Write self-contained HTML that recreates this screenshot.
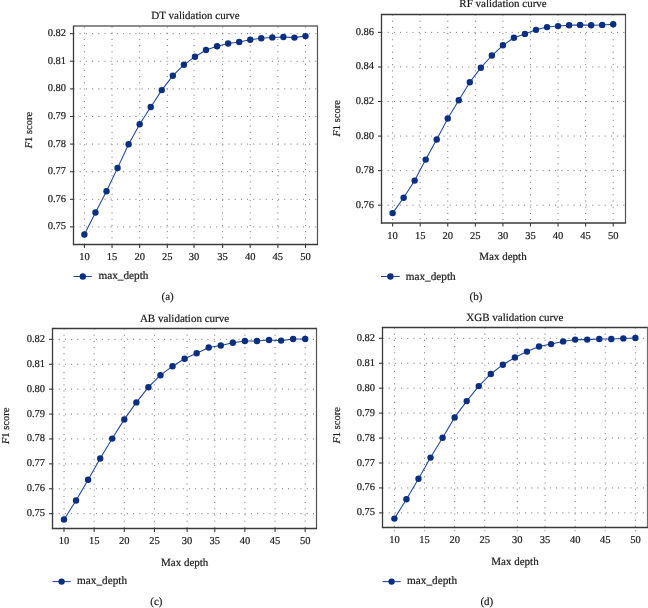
<!DOCTYPE html>
<html><head><meta charset="utf-8"><title>Validation curves</title>
<style>
html,body{margin:0;padding:0;background:#fff;}
body{width:648px;height:608px;overflow:hidden;}
svg{display:block;font-family:"Liberation Serif", serif;text-rendering:geometricPrecision;filter:blur(0.35px);}
.gr{stroke:#707070;stroke-width:1;stroke-dasharray:1 5.2;fill:none;}
.fr{stroke:#3a3a3a;stroke-width:1.3;fill:none;}
.tk{stroke:#3a3a3a;stroke-width:1.1;}
.tl{font-size:10.5px;fill:#1a1a1a;stroke:#1a1a1a;stroke-width:0.2px;}
.tt{font-size:11px;fill:#1a1a1a;stroke:#1a1a1a;stroke-width:0.2px;}
.yl{font-size:10.5px;fill:#1a1a1a;stroke:#1a1a1a;stroke-width:0.2px;}
.ln{stroke:#1f45a0;stroke-width:1.05;fill:none;}
.mk{fill:#0b2f80;}
</style></head>
<body>
<svg width="648" height="608" viewBox="0 0 648 608">
<rect width="648" height="608" fill="#fff"/>
<g>
<line x1="84.4" y1="26.5" x2="84.4" y2="244.5" class="gr"/>
<line x1="112.04" y1="26.5" x2="112.04" y2="244.5" class="gr"/>
<line x1="139.68" y1="26.5" x2="139.68" y2="244.5" class="gr"/>
<line x1="167.31" y1="26.5" x2="167.31" y2="244.5" class="gr"/>
<line x1="194.05" y1="26.5" x2="194.05" y2="244.5" class="gr"/>
<line x1="222.59" y1="26.5" x2="222.59" y2="244.5" class="gr"/>
<line x1="250.22" y1="26.5" x2="250.22" y2="244.5" class="gr"/>
<line x1="277.86" y1="26.5" x2="277.86" y2="244.5" class="gr"/>
<line x1="305.5" y1="26.5" x2="305.5" y2="244.5" class="gr"/>
<line x1="73.5" y1="226.92" x2="317.5" y2="226.92" class="gr"/>
<line x1="73.5" y1="199.31" x2="317.5" y2="199.31" class="gr"/>
<line x1="73.5" y1="171.7" x2="317.5" y2="171.7" class="gr"/>
<line x1="73.5" y1="144.09" x2="317.5" y2="144.09" class="gr"/>
<line x1="73.5" y1="116.48" x2="317.5" y2="116.48" class="gr"/>
<line x1="73.5" y1="88.87" x2="317.5" y2="88.87" class="gr"/>
<line x1="73.5" y1="61.26" x2="317.5" y2="61.26" class="gr"/>
<line x1="73.5" y1="33.65" x2="317.5" y2="33.65" class="gr"/>
<line x1="72.9" y1="26" x2="318.1" y2="26" stroke="#666" stroke-width="1.7"/>
<line x1="317.5" y1="26.5" x2="317.5" y2="244.5" stroke="#505050" stroke-width="1.2"/>
<line x1="73.5" y1="25.9" x2="73.5" y2="245.1" class="fr"/>
<line x1="72.9" y1="244.5" x2="318.1" y2="244.5" class="fr"/>
<line x1="84.4" y1="244.5" x2="84.4" y2="248" class="tk"/>
<text x="84.4" y="260" class="tl" text-anchor="middle">10</text>
<line x1="112.04" y1="244.5" x2="112.04" y2="248" class="tk"/>
<text x="112.04" y="260" class="tl" text-anchor="middle">15</text>
<line x1="139.68" y1="244.5" x2="139.68" y2="248" class="tk"/>
<text x="139.68" y="260" class="tl" text-anchor="middle">20</text>
<line x1="167.31" y1="244.5" x2="167.31" y2="248" class="tk"/>
<text x="167.31" y="260" class="tl" text-anchor="middle">25</text>
<line x1="194.05" y1="244.5" x2="194.05" y2="248" class="tk"/>
<text x="194.05" y="260" class="tl" text-anchor="middle">30</text>
<line x1="222.59" y1="244.5" x2="222.59" y2="248" class="tk"/>
<text x="222.59" y="260" class="tl" text-anchor="middle">35</text>
<line x1="250.22" y1="244.5" x2="250.22" y2="248" class="tk"/>
<text x="250.22" y="260" class="tl" text-anchor="middle">40</text>
<line x1="277.86" y1="244.5" x2="277.86" y2="248" class="tk"/>
<text x="277.86" y="260" class="tl" text-anchor="middle">45</text>
<line x1="305.5" y1="244.5" x2="305.5" y2="248" class="tk"/>
<text x="305.5" y="260" class="tl" text-anchor="middle">50</text>
<line x1="70" y1="226.92" x2="73.5" y2="226.92" class="tk"/>
<text x="66" y="229.42" class="tl" text-anchor="end">0.75</text>
<line x1="70" y1="199.31" x2="73.5" y2="199.31" class="tk"/>
<text x="66" y="201.81" class="tl" text-anchor="end">0.76</text>
<line x1="70" y1="171.7" x2="73.5" y2="171.7" class="tk"/>
<text x="66" y="174.2" class="tl" text-anchor="end">0.77</text>
<line x1="70" y1="144.09" x2="73.5" y2="144.09" class="tk"/>
<text x="66" y="146.59" class="tl" text-anchor="end">0.78</text>
<line x1="70" y1="116.48" x2="73.5" y2="116.48" class="tk"/>
<text x="66" y="118.98" class="tl" text-anchor="end">0.79</text>
<line x1="70" y1="88.87" x2="73.5" y2="88.87" class="tk"/>
<text x="66" y="91.37" class="tl" text-anchor="end">0.80</text>
<line x1="70" y1="61.26" x2="73.5" y2="61.26" class="tk"/>
<text x="66" y="63.76" class="tl" text-anchor="end">0.81</text>
<line x1="70" y1="33.65" x2="73.5" y2="33.65" class="tk"/>
<text x="66" y="36.15" class="tl" text-anchor="end">0.82</text>
<polyline points="84.4,234.5 95.46,212.5 106.51,191.3 117.56,167.9 128.62,144.3 139.68,124.3 150.73,107 161.78,90.1 172.84,75.7 183.9,64.8 194.95,56.7 206,50 217.06,46.3 228.12,43.5 239.17,42 250.22,39.8 261.28,38.3 272.34,37.4 283.39,37 294.44,37.6 305.5,36.1" class="ln"/>
<circle cx="84.4" cy="234.5" r="3.2" class="mk"/>
<circle cx="95.46" cy="212.5" r="3.2" class="mk"/>
<circle cx="106.51" cy="191.3" r="3.2" class="mk"/>
<circle cx="117.56" cy="167.9" r="3.2" class="mk"/>
<circle cx="128.62" cy="144.3" r="3.2" class="mk"/>
<circle cx="139.68" cy="124.3" r="3.2" class="mk"/>
<circle cx="150.73" cy="107" r="3.2" class="mk"/>
<circle cx="161.78" cy="90.1" r="3.2" class="mk"/>
<circle cx="172.84" cy="75.7" r="3.2" class="mk"/>
<circle cx="183.9" cy="64.8" r="3.2" class="mk"/>
<circle cx="194.95" cy="56.7" r="3.2" class="mk"/>
<circle cx="206" cy="50" r="3.2" class="mk"/>
<circle cx="217.06" cy="46.3" r="3.2" class="mk"/>
<circle cx="228.12" cy="43.5" r="3.2" class="mk"/>
<circle cx="239.17" cy="42" r="3.2" class="mk"/>
<circle cx="250.22" cy="39.8" r="3.2" class="mk"/>
<circle cx="261.28" cy="38.3" r="3.2" class="mk"/>
<circle cx="272.34" cy="37.4" r="3.2" class="mk"/>
<circle cx="283.39" cy="37" r="3.2" class="mk"/>
<circle cx="294.44" cy="37.6" r="3.2" class="mk"/>
<circle cx="305.5" cy="36.1" r="3.2" class="mk"/>
<text x="195.5" y="19.4" class="tt" text-anchor="middle">DT validation curve</text>
<text transform="translate(31.8,130.1) rotate(-90)" class="yl" text-anchor="middle"><tspan font-style="italic">F</tspan>1 score</text>
<line x1="73.5" y1="276.5" x2="91.8" y2="276.5" class="ln"/>
<circle cx="82.8" cy="276.5" r="3.2" class="mk"/>
<text x="98.5" y="279.4" class="tt" style="font-size:11.25px">max_depth</text>
<text x="167.7" y="299.6" class="tt" text-anchor="middle">(a)</text>
</g>
<g>
<line x1="392.6" y1="14.5" x2="392.6" y2="223" class="gr"/>
<line x1="420.18" y1="14.5" x2="420.18" y2="223" class="gr"/>
<line x1="447.75" y1="14.5" x2="447.75" y2="223" class="gr"/>
<line x1="475.33" y1="14.5" x2="475.33" y2="223" class="gr"/>
<line x1="502.9" y1="14.5" x2="502.9" y2="223" class="gr"/>
<line x1="530.48" y1="14.5" x2="530.48" y2="223" class="gr"/>
<line x1="558.05" y1="14.5" x2="558.05" y2="223" class="gr"/>
<line x1="585.62" y1="14.5" x2="585.62" y2="223" class="gr"/>
<line x1="613.2" y1="14.5" x2="613.2" y2="223" class="gr"/>
<line x1="381.5" y1="205.2" x2="625.5" y2="205.2" class="gr"/>
<line x1="381.5" y1="170.64" x2="625.5" y2="170.64" class="gr"/>
<line x1="381.5" y1="136.08" x2="625.5" y2="136.08" class="gr"/>
<line x1="381.5" y1="101.52" x2="625.5" y2="101.52" class="gr"/>
<line x1="381.5" y1="66.96" x2="625.5" y2="66.96" class="gr"/>
<line x1="381.5" y1="32.4" x2="625.5" y2="32.4" class="gr"/>
<line x1="380.9" y1="14.5" x2="626.1" y2="14.5" stroke="#3a3a3a" stroke-width="1.3"/>
<line x1="625.5" y1="14.5" x2="625.5" y2="223" stroke="#505050" stroke-width="1.2"/>
<line x1="381.5" y1="13.9" x2="381.5" y2="223.6" class="fr"/>
<line x1="380.9" y1="223" x2="626.1" y2="223" class="fr"/>
<line x1="392.6" y1="223" x2="392.6" y2="226.5" class="tk"/>
<text x="392.6" y="238.5" class="tl" text-anchor="middle">10</text>
<line x1="420.18" y1="223" x2="420.18" y2="226.5" class="tk"/>
<text x="420.18" y="238.5" class="tl" text-anchor="middle">15</text>
<line x1="447.75" y1="223" x2="447.75" y2="226.5" class="tk"/>
<text x="447.75" y="238.5" class="tl" text-anchor="middle">20</text>
<line x1="475.33" y1="223" x2="475.33" y2="226.5" class="tk"/>
<text x="475.33" y="238.5" class="tl" text-anchor="middle">25</text>
<line x1="502.9" y1="223" x2="502.9" y2="226.5" class="tk"/>
<text x="502.9" y="238.5" class="tl" text-anchor="middle">30</text>
<line x1="530.48" y1="223" x2="530.48" y2="226.5" class="tk"/>
<text x="530.48" y="238.5" class="tl" text-anchor="middle">35</text>
<line x1="558.05" y1="223" x2="558.05" y2="226.5" class="tk"/>
<text x="558.05" y="238.5" class="tl" text-anchor="middle">40</text>
<line x1="585.62" y1="223" x2="585.62" y2="226.5" class="tk"/>
<text x="585.62" y="238.5" class="tl" text-anchor="middle">45</text>
<line x1="613.2" y1="223" x2="613.2" y2="226.5" class="tk"/>
<text x="613.2" y="238.5" class="tl" text-anchor="middle">50</text>
<line x1="378" y1="205.2" x2="381.5" y2="205.2" class="tk"/>
<text x="374" y="207.7" class="tl" text-anchor="end">0.76</text>
<line x1="378" y1="170.64" x2="381.5" y2="170.64" class="tk"/>
<text x="374" y="173.14" class="tl" text-anchor="end">0.78</text>
<line x1="378" y1="136.08" x2="381.5" y2="136.08" class="tk"/>
<text x="374" y="138.58" class="tl" text-anchor="end">0.80</text>
<line x1="378" y1="101.52" x2="381.5" y2="101.52" class="tk"/>
<text x="374" y="104.02" class="tl" text-anchor="end">0.82</text>
<line x1="378" y1="66.96" x2="381.5" y2="66.96" class="tk"/>
<text x="374" y="69.46" class="tl" text-anchor="end">0.84</text>
<line x1="378" y1="32.4" x2="381.5" y2="32.4" class="tk"/>
<text x="374" y="34.9" class="tl" text-anchor="end">0.86</text>
<polyline points="392.6,213.1 403.63,197.7 414.66,180.6 425.69,159.6 436.72,139.5 447.75,118.5 458.78,100.2 469.81,82.2 480.84,67.7 491.87,55.5 502.9,45.3 513.93,37.7 524.96,33.9 535.99,29.85 547.02,27.1 558.05,26.1 569.08,25.3 580.11,24.9 591.14,25.3 602.17,24.9 613.2,24.3" class="ln"/>
<circle cx="392.6" cy="213.1" r="3.2" class="mk"/>
<circle cx="403.63" cy="197.7" r="3.2" class="mk"/>
<circle cx="414.66" cy="180.6" r="3.2" class="mk"/>
<circle cx="425.69" cy="159.6" r="3.2" class="mk"/>
<circle cx="436.72" cy="139.5" r="3.2" class="mk"/>
<circle cx="447.75" cy="118.5" r="3.2" class="mk"/>
<circle cx="458.78" cy="100.2" r="3.2" class="mk"/>
<circle cx="469.81" cy="82.2" r="3.2" class="mk"/>
<circle cx="480.84" cy="67.7" r="3.2" class="mk"/>
<circle cx="491.87" cy="55.5" r="3.2" class="mk"/>
<circle cx="502.9" cy="45.3" r="3.2" class="mk"/>
<circle cx="513.93" cy="37.7" r="3.2" class="mk"/>
<circle cx="524.96" cy="33.9" r="3.2" class="mk"/>
<circle cx="535.99" cy="29.85" r="3.2" class="mk"/>
<circle cx="547.02" cy="27.1" r="3.2" class="mk"/>
<circle cx="558.05" cy="26.1" r="3.2" class="mk"/>
<circle cx="569.08" cy="25.3" r="3.2" class="mk"/>
<circle cx="580.11" cy="24.9" r="3.2" class="mk"/>
<circle cx="591.14" cy="25.3" r="3.2" class="mk"/>
<circle cx="602.17" cy="24.9" r="3.2" class="mk"/>
<circle cx="613.2" cy="24.3" r="3.2" class="mk"/>
<text x="503" y="7.1" class="tt" text-anchor="middle">RF validation curve</text>
<text transform="translate(339.9,118.4) rotate(-90)" class="yl" text-anchor="middle"><tspan font-style="italic">F</tspan>1 score</text>
<text x="503" y="259.7" class="tt" text-anchor="middle">Max depth</text>
<line x1="381" y1="276.5" x2="399.7" y2="276.5" class="ln"/>
<circle cx="390.4" cy="276.5" r="3.2" class="mk"/>
<text x="405.7" y="279.5" class="tt" style="font-size:11.25px">max_depth</text>
<text x="476" y="299.6" class="tt" text-anchor="middle">(b)</text>
</g>
<g>
<line x1="64" y1="328.5" x2="64" y2="528.5" class="gr"/>
<line x1="94.15" y1="328.5" x2="94.15" y2="528.5" class="gr"/>
<line x1="124.3" y1="328.5" x2="124.3" y2="528.5" class="gr"/>
<line x1="154.45" y1="328.5" x2="154.45" y2="528.5" class="gr"/>
<line x1="187.1" y1="328.5" x2="187.1" y2="528.5" class="gr"/>
<line x1="214.75" y1="328.5" x2="214.75" y2="528.5" class="gr"/>
<line x1="244.9" y1="328.5" x2="244.9" y2="528.5" class="gr"/>
<line x1="275.05" y1="328.5" x2="275.05" y2="528.5" class="gr"/>
<line x1="305.2" y1="328.5" x2="305.2" y2="528.5" class="gr"/>
<line x1="52.5" y1="513.65" x2="316.5" y2="513.65" class="gr"/>
<line x1="52.5" y1="488.75" x2="316.5" y2="488.75" class="gr"/>
<line x1="52.5" y1="463.85" x2="316.5" y2="463.85" class="gr"/>
<line x1="52.5" y1="438.95" x2="316.5" y2="438.95" class="gr"/>
<line x1="52.5" y1="414.05" x2="316.5" y2="414.05" class="gr"/>
<line x1="52.5" y1="389.15" x2="316.5" y2="389.15" class="gr"/>
<line x1="52.5" y1="364.25" x2="316.5" y2="364.25" class="gr"/>
<line x1="52.5" y1="339.35" x2="316.5" y2="339.35" class="gr"/>
<line x1="51.9" y1="328.5" x2="317.1" y2="328.5" stroke="#3a3a3a" stroke-width="1.3"/>
<line x1="316.5" y1="328.5" x2="316.5" y2="528.5" stroke="#505050" stroke-width="1.2"/>
<line x1="52.5" y1="327.9" x2="52.5" y2="529.1" class="fr"/>
<line x1="51.9" y1="528.5" x2="317.1" y2="528.5" class="fr"/>
<line x1="64" y1="528.5" x2="64" y2="532" class="tk"/>
<text x="64" y="544" class="tl" text-anchor="middle">10</text>
<line x1="94.15" y1="528.5" x2="94.15" y2="532" class="tk"/>
<text x="94.15" y="544" class="tl" text-anchor="middle">15</text>
<line x1="124.3" y1="528.5" x2="124.3" y2="532" class="tk"/>
<text x="124.3" y="544" class="tl" text-anchor="middle">20</text>
<line x1="154.45" y1="528.5" x2="154.45" y2="532" class="tk"/>
<text x="154.45" y="544" class="tl" text-anchor="middle">25</text>
<line x1="187.1" y1="528.5" x2="187.1" y2="532" class="tk"/>
<text x="187.1" y="544" class="tl" text-anchor="middle">30</text>
<line x1="214.75" y1="528.5" x2="214.75" y2="532" class="tk"/>
<text x="214.75" y="544" class="tl" text-anchor="middle">35</text>
<line x1="244.9" y1="528.5" x2="244.9" y2="532" class="tk"/>
<text x="244.9" y="544" class="tl" text-anchor="middle">40</text>
<line x1="275.05" y1="528.5" x2="275.05" y2="532" class="tk"/>
<text x="275.05" y="544" class="tl" text-anchor="middle">45</text>
<line x1="305.2" y1="528.5" x2="305.2" y2="532" class="tk"/>
<text x="305.2" y="544" class="tl" text-anchor="middle">50</text>
<line x1="49" y1="513.65" x2="52.5" y2="513.65" class="tk"/>
<text x="45" y="516.15" class="tl" text-anchor="end">0.75</text>
<line x1="49" y1="488.75" x2="52.5" y2="488.75" class="tk"/>
<text x="45" y="491.25" class="tl" text-anchor="end">0.76</text>
<line x1="49" y1="463.85" x2="52.5" y2="463.85" class="tk"/>
<text x="45" y="466.35" class="tl" text-anchor="end">0.77</text>
<line x1="49" y1="438.95" x2="52.5" y2="438.95" class="tk"/>
<text x="45" y="441.45" class="tl" text-anchor="end">0.78</text>
<line x1="49" y1="414.05" x2="52.5" y2="414.05" class="tk"/>
<text x="45" y="416.55" class="tl" text-anchor="end">0.79</text>
<line x1="49" y1="389.15" x2="52.5" y2="389.15" class="tk"/>
<text x="45" y="391.65" class="tl" text-anchor="end">0.80</text>
<line x1="49" y1="364.25" x2="52.5" y2="364.25" class="tk"/>
<text x="45" y="366.75" class="tl" text-anchor="end">0.81</text>
<line x1="49" y1="339.35" x2="52.5" y2="339.35" class="tk"/>
<text x="45" y="341.85" class="tl" text-anchor="end">0.82</text>
<polyline points="64,519.5 76.06,500.5 88.12,479.7 100.18,458.5 112.24,438.6 124.3,419.4 136.36,402.4 148.42,387.2 160.48,375.2 172.54,366.2 184.6,358.8 196.66,353.2 208.72,347.5 220.78,345.5 232.84,342.7 244.9,341 256.96,341 269.02,340 281.08,340.6 293.14,339 305.2,339" class="ln"/>
<circle cx="64" cy="519.5" r="3.2" class="mk"/>
<circle cx="76.06" cy="500.5" r="3.2" class="mk"/>
<circle cx="88.12" cy="479.7" r="3.2" class="mk"/>
<circle cx="100.18" cy="458.5" r="3.2" class="mk"/>
<circle cx="112.24" cy="438.6" r="3.2" class="mk"/>
<circle cx="124.3" cy="419.4" r="3.2" class="mk"/>
<circle cx="136.36" cy="402.4" r="3.2" class="mk"/>
<circle cx="148.42" cy="387.2" r="3.2" class="mk"/>
<circle cx="160.48" cy="375.2" r="3.2" class="mk"/>
<circle cx="172.54" cy="366.2" r="3.2" class="mk"/>
<circle cx="184.6" cy="358.8" r="3.2" class="mk"/>
<circle cx="196.66" cy="353.2" r="3.2" class="mk"/>
<circle cx="208.72" cy="347.5" r="3.2" class="mk"/>
<circle cx="220.78" cy="345.5" r="3.2" class="mk"/>
<circle cx="232.84" cy="342.7" r="3.2" class="mk"/>
<circle cx="244.9" cy="341" r="3.2" class="mk"/>
<circle cx="256.96" cy="341" r="3.2" class="mk"/>
<circle cx="269.02" cy="340" r="3.2" class="mk"/>
<circle cx="281.08" cy="340.6" r="3.2" class="mk"/>
<circle cx="293.14" cy="339" r="3.2" class="mk"/>
<circle cx="305.2" cy="339" r="3.2" class="mk"/>
<text x="184.5" y="322" class="tt" text-anchor="middle">AB validation curve</text>
<text transform="translate(9.1,425.9) rotate(-90)" class="yl" text-anchor="middle"><tspan font-style="italic">F</tspan>1 score</text>
<text x="184.7" y="566" class="tt" text-anchor="middle">Max depth</text>
<line x1="52.5" y1="581.6" x2="70.7" y2="581.6" class="ln"/>
<circle cx="61.6" cy="581.6" r="3.2" class="mk"/>
<text x="77.1" y="584.4" class="tt" style="font-size:11.25px">max_depth</text>
<text x="156.4" y="605.2" class="tt" text-anchor="middle">(c)</text>
</g>
<g>
<line x1="394.4" y1="327.5" x2="394.4" y2="527.5" class="gr"/>
<line x1="424.52" y1="327.5" x2="424.52" y2="527.5" class="gr"/>
<line x1="454.65" y1="327.5" x2="454.65" y2="527.5" class="gr"/>
<line x1="484.77" y1="327.5" x2="484.77" y2="527.5" class="gr"/>
<line x1="517.3" y1="327.5" x2="517.3" y2="527.5" class="gr"/>
<line x1="545.02" y1="327.5" x2="545.02" y2="527.5" class="gr"/>
<line x1="575.15" y1="327.5" x2="575.15" y2="527.5" class="gr"/>
<line x1="605.27" y1="327.5" x2="605.27" y2="527.5" class="gr"/>
<line x1="635.4" y1="327.5" x2="635.4" y2="527.5" class="gr"/>
<line x1="382.5" y1="512.88" x2="647.5" y2="512.88" class="gr"/>
<line x1="382.5" y1="487.94" x2="647.5" y2="487.94" class="gr"/>
<line x1="382.5" y1="463" x2="647.5" y2="463" class="gr"/>
<line x1="382.5" y1="438.06" x2="647.5" y2="438.06" class="gr"/>
<line x1="382.5" y1="413.12" x2="647.5" y2="413.12" class="gr"/>
<line x1="382.5" y1="388.18" x2="647.5" y2="388.18" class="gr"/>
<line x1="382.5" y1="363.24" x2="647.5" y2="363.24" class="gr"/>
<line x1="382.5" y1="338.3" x2="647.5" y2="338.3" class="gr"/>
<line x1="381.9" y1="327.5" x2="648.1" y2="327.5" stroke="#3a3a3a" stroke-width="1.3"/>
<line x1="647.5" y1="327.5" x2="647.5" y2="527.5" stroke="#707070" stroke-width="1.2"/>
<line x1="382.5" y1="326.9" x2="382.5" y2="528.1" class="fr"/>
<line x1="381.9" y1="527.5" x2="648.1" y2="527.5" class="fr"/>
<rect x="393.8" y="530.1" width="1.2" height="1.2" fill="#aaa"/>
<text x="394.4" y="543" class="tl" text-anchor="middle">10</text>
<rect x="423.92" y="530.1" width="1.2" height="1.2" fill="#aaa"/>
<text x="424.52" y="543" class="tl" text-anchor="middle">15</text>
<rect x="454.05" y="530.1" width="1.2" height="1.2" fill="#aaa"/>
<text x="454.65" y="543" class="tl" text-anchor="middle">20</text>
<rect x="484.17" y="530.1" width="1.2" height="1.2" fill="#aaa"/>
<text x="484.77" y="543" class="tl" text-anchor="middle">25</text>
<rect x="516.7" y="530.1" width="1.2" height="1.2" fill="#aaa"/>
<text x="517.3" y="543" class="tl" text-anchor="middle">30</text>
<rect x="544.42" y="530.1" width="1.2" height="1.2" fill="#aaa"/>
<text x="545.02" y="543" class="tl" text-anchor="middle">35</text>
<rect x="574.55" y="530.1" width="1.2" height="1.2" fill="#aaa"/>
<text x="575.15" y="543" class="tl" text-anchor="middle">40</text>
<rect x="604.67" y="530.1" width="1.2" height="1.2" fill="#aaa"/>
<text x="605.27" y="543" class="tl" text-anchor="middle">45</text>
<rect x="634.8" y="530.1" width="1.2" height="1.2" fill="#aaa"/>
<text x="635.4" y="543" class="tl" text-anchor="middle">50</text>
<line x1="379" y1="512.88" x2="382.5" y2="512.88" class="tk"/>
<text x="375" y="515.38" class="tl" text-anchor="end">0.75</text>
<line x1="379" y1="487.94" x2="382.5" y2="487.94" class="tk"/>
<text x="375" y="490.44" class="tl" text-anchor="end">0.76</text>
<line x1="379" y1="463" x2="382.5" y2="463" class="tk"/>
<text x="375" y="465.5" class="tl" text-anchor="end">0.77</text>
<line x1="379" y1="438.06" x2="382.5" y2="438.06" class="tk"/>
<text x="375" y="440.56" class="tl" text-anchor="end">0.78</text>
<line x1="379" y1="413.12" x2="382.5" y2="413.12" class="tk"/>
<text x="375" y="415.62" class="tl" text-anchor="end">0.79</text>
<line x1="379" y1="388.18" x2="382.5" y2="388.18" class="tk"/>
<text x="375" y="390.68" class="tl" text-anchor="end">0.80</text>
<line x1="379" y1="363.24" x2="382.5" y2="363.24" class="tk"/>
<text x="375" y="365.74" class="tl" text-anchor="end">0.81</text>
<line x1="379" y1="338.3" x2="382.5" y2="338.3" class="tk"/>
<text x="375" y="340.8" class="tl" text-anchor="end">0.82</text>
<polyline points="394.4,518.6 406.45,499.2 418.5,478.8 430.55,457.6 442.6,437.7 454.65,417.4 466.7,401.1 478.75,386.1 490.8,374 502.85,364.7 514.9,357.5 526.95,351.6 539,346.5 551.05,344.1 563.1,341.4 575.15,339.6 587.2,339.6 599.25,339 611.3,339 623.35,338.4 635.4,338" class="ln"/>
<circle cx="394.4" cy="518.6" r="3.2" class="mk"/>
<circle cx="406.45" cy="499.2" r="3.2" class="mk"/>
<circle cx="418.5" cy="478.8" r="3.2" class="mk"/>
<circle cx="430.55" cy="457.6" r="3.2" class="mk"/>
<circle cx="442.6" cy="437.7" r="3.2" class="mk"/>
<circle cx="454.65" cy="417.4" r="3.2" class="mk"/>
<circle cx="466.7" cy="401.1" r="3.2" class="mk"/>
<circle cx="478.75" cy="386.1" r="3.2" class="mk"/>
<circle cx="490.8" cy="374" r="3.2" class="mk"/>
<circle cx="502.85" cy="364.7" r="3.2" class="mk"/>
<circle cx="514.9" cy="357.5" r="3.2" class="mk"/>
<circle cx="526.95" cy="351.6" r="3.2" class="mk"/>
<circle cx="539" cy="346.5" r="3.2" class="mk"/>
<circle cx="551.05" cy="344.1" r="3.2" class="mk"/>
<circle cx="563.1" cy="341.4" r="3.2" class="mk"/>
<circle cx="575.15" cy="339.6" r="3.2" class="mk"/>
<circle cx="587.2" cy="339.6" r="3.2" class="mk"/>
<circle cx="599.25" cy="339" r="3.2" class="mk"/>
<circle cx="611.3" cy="339" r="3.2" class="mk"/>
<circle cx="623.35" cy="338.4" r="3.2" class="mk"/>
<circle cx="635.4" cy="338" r="3.2" class="mk"/>
<text x="514.9" y="321.1" class="tt" text-anchor="middle">XGB validation curve</text>
<text transform="translate(339.9,425.4) rotate(-90)" class="yl" text-anchor="middle"><tspan font-style="italic">F</tspan>1 score</text>
<text x="515" y="565" class="tt" text-anchor="middle">Max depth</text>
<line x1="382.5" y1="581.6" x2="400.7" y2="581.6" class="ln"/>
<circle cx="391.6" cy="581.6" r="3.2" class="mk"/>
<text x="407.1" y="584.2" class="tt" style="font-size:11.25px">max_depth</text>
<text x="486.8" y="605.2" class="tt" text-anchor="middle">(d)</text>
</g>
</svg>
</body></html>
